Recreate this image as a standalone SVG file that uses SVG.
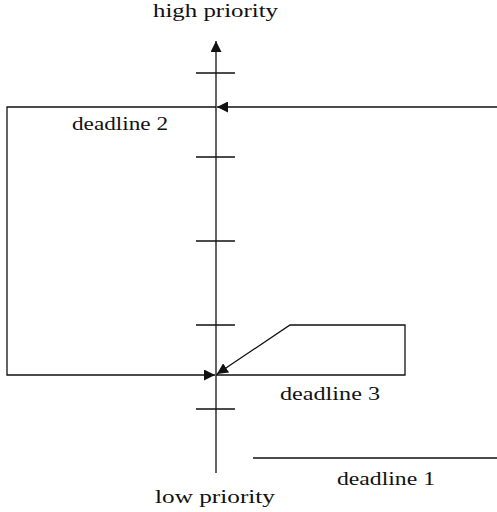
<svg xmlns="http://www.w3.org/2000/svg" width="497" height="512" viewBox="0 0 497 512">
<style>
.ln{fill:none;stroke:#111;stroke-width:1.3}
.t{font-family:"Liberation Serif","Times New Roman",serif;font-size:18px;fill:#111}
</style>
<defs>
<marker id="ah" markerUnits="userSpaceOnUse" markerWidth="12" markerHeight="11" refX="11" refY="5.5" orient="auto">
<path d="M0,0 L11,5.5 L0,11 Z" fill="#111"/>
</marker>
</defs>
<g id="axis">
<path class="ln" d="M216,473 V41" marker-end="url(#ah)"/>
<path class="ln" d="M196,73 H235 M196,157 H235 M196,241 H235 M196,325 H235 M196,409 H235"/>
<text class="t" x="153" y="17" textLength="125" lengthAdjust="spacingAndGlyphs">high priority</text>
<text class="t" x="155" y="503" textLength="120" lengthAdjust="spacingAndGlyphs">low priority</text>
</g>
<g id="deadline2">
<text class="t" x="72" y="130" textLength="96" lengthAdjust="spacingAndGlyphs">deadline 2</text>
</g>
<g id="deadline3">
<text class="t" x="280" y="400" textLength="100" lengthAdjust="spacingAndGlyphs">deadline 3</text>
</g>
<g id="deadline1">
<text class="t" x="337" y="485" textLength="98" lengthAdjust="spacingAndGlyphs">deadline 1</text>
</g>
<g id="connectors">
<path class="ln" d="M497,107 H217" marker-end="url(#ah)"/>
<path class="ln" d="M216,107 H7 V375 H215" marker-end="url(#ah)"/>
<path class="ln" d="M216,375 H405 V325 H290 L217,374" marker-end="url(#ah)"/>
<path class="ln" d="M253,458 H497"/>
</g>
</svg>
